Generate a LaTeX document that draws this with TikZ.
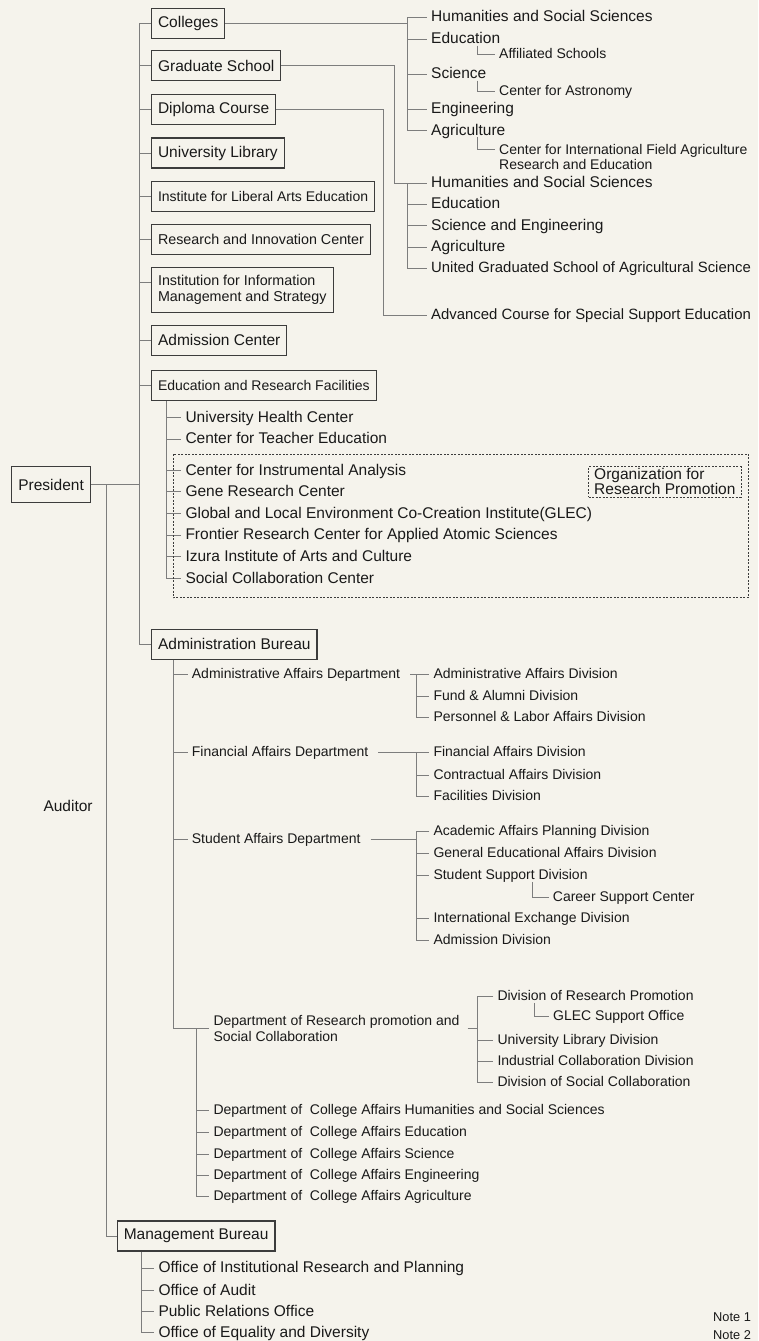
\documentclass[tikz,border=0pt]{standalone}
\usepackage{fontspec}
\setmainfont{Liberation Sans}
\usepackage{tikz}
\usetikzlibrary{
    calc
}

\begin{document}
\begin{tikzpicture}[
    x=1pt, y=-1pt,
    unit/.style={
        draw=boxline,
        line width=1.1pt,
        minimum height=30pt,
        inner xsep=6.5pt,
        anchor=west,
        align=left,
        text=ink,
        font=\fontsize{15.5}{16}\selectfont
    },
    item/.style={
        inner xsep=4pt,
        inner ysep=0pt,
        anchor=west,
        text=ink,
        text height=11pt,
        text depth=2pt,
        font=\fontsize{15.5}{16}\selectfont
    },
    subitem/.style={
        inner xsep=4pt,
        inner ysep=0pt,
        anchor=west,
        text=ink,
        text height=10pt,
        text depth=2pt,
        font=\fontsize{14}{16}\selectfont
    },
    twoline/.style={
        inner xsep=4pt,
        inner ysep=0pt,
        anchor=west,
        align=left,
        text=ink,
        font=\fontsize{14}{15.7}\selectfont
    },
    note/.style={
        inner sep=0pt,
        anchor=west,
        text=ink,
        text height=9.4pt,
        text depth=0pt,
        font=\fontsize{12.8}{14}\selectfont
    },
    link/.style={
        draw=wire,
        line width=1pt
    },
    group/.style={
        draw=boxline,
        line width=0.8pt,
        dash pattern=on 2pt off 1.5pt
    }]
    \definecolor{paper}{RGB}{245, 243, 236}
    \definecolor{wire}{RGB}{125, 125, 125}
    \definecolor{boxline}{RGB}{60, 60, 60}
    \definecolor{ink}{RGB}{25, 25, 25}

    \fill[paper] (0,0) rectangle (758,1341);
    \useasboundingbox (0,0) rectangle (758,1341);

    % top level
    \node[unit, minimum height=36pt] (pres) at (11.3,484.7) {President};
    \node[unit] (coll) at (151,23.5) {Colleges};
    \node[unit] (grad) at (151,65.7) {Graduate School};
    \node[unit] (dipl) at (151,109.3) {Diploma Course};
    \node[unit] (ulib) at (151,153) {University Library};
    \node[unit, font=\fontsize{14}{16}\selectfont] (libarts) at (151,196.7) {Institute for Liberal Arts Education};
    \node[unit, font=\fontsize{14.3}{16}\selectfont] (innov) at (151,239.3) {Research and Innovation Center};
    \node[unit, font=\fontsize{14.3}{15.7}\selectfont, minimum height=45.3pt] (infor) at (151,290) {Institution for Information\\Management and Strategy};
    \node[unit] (admc) at (151,340.3) {Admission Center};
    \node[unit, font=\fontsize{14}{16}\selectfont] (erf) at (151,385.7) {Education and Research Facilities};
    \node[unit] (admb) at (151,644.3) {Administration Bureau};
    \node[unit] (mgmb) at (116.7,1236) {Management Bureau};

    \coordinate (spine) at (139,0);
    \coordinate (audline) at (106.3,0);
    \coordinate (infortick) at ($(infor.north west)!0.33!(infor.south west)$);

    \draw[link] (coll.west) -| (spine |- admb.west) -- (admb.west);
    \draw[link] (spine |- grad.west) -- (grad.west);
    \draw[link] (spine |- dipl.west) -- (dipl.west);
    \draw[link] (spine |- ulib.west) -- (ulib.west);
    \draw[link] (spine |- libarts.west) -- (libarts.west);
    \draw[link] (spine |- innov.west) -- (innov.west);
    \draw[link] (spine |- infortick) -- (infortick);
    \draw[link] (spine |- admc.west) -- (admc.west);
    \draw[link] (spine |- erf.west) -- (erf.west);
    \draw[link] (pres.east) -- (spine |- pres.east);
    \draw[link] (audline |- pres.east) |- (mgmb.west);

    \node[item] (audt) at (39.3,806.7) {Auditor};

    % colleges
    \coordinate (cbr) at (407,0);
    \coordinate (csub) at (477,0);
    \node[item] (c1) at (427,17.3) {Humanities and Social Sciences};
    \node[item] (c2) at (427,39) {Education};
    \node[subitem] (c2a) at (495,54.3) {Affiliated Schools};
    \node[item] (c3) at (427,74) {Science};
    \node[subitem] (c3a) at (495,91.7) {Center for Astronomy};
    \node[item] (c4) at (427,109) {Engineering};
    \node[item] (c5) at (427,130.7) {Agriculture};
    \node[twoline, font=\fontsize{14}{15.3}\selectfont] (c5a) at (495,156.7) {Center for International Field Agriculture\\Research and Education};

    \draw[link] (coll.east) -- (cbr |- coll.east);
    \draw[link] (c1.west) -| (cbr |- c5.west) -- (c5.west);
    \draw[link] (cbr |- c2.west) -- (c2.west);
    \draw[link] (cbr |- c3.west) -- (c3.west);
    \draw[link] (cbr |- c4.west) -- (c4.west);
    \draw[link] (csub |- c2.south) |- (c2a.west);
    \draw[link] (csub |- c3.south) |- (c3a.west);
    \draw[link] (csub |- c5.south) |- ($(c5a.north west)+(0,6)$);

    % graduate school
    \coordinate (gjog) at (394,0);
    \coordinate (gbr) at (407,0);
    \node[item] (g1) at (427,183) {Humanities and Social Sciences};
    \node[item] (g2) at (427,204.3) {Education};
    \node[item] (g3) at (427,225.7) {Science and Engineering};
    \node[item] (g4) at (427,247) {Agriculture};
    \node[item, font=\fontsize{14.9}{16}\selectfont] (g5) at (427,268.3) {United Graduated School of Agricultural Science};

    \draw[link] (grad.east) -| (gjog |- g1.west) -- (g1.west);
    \draw[link] (gbr |- g1.west) |- (g5.west);
    \draw[link] (gbr |- g2.west) -- (g2.west);
    \draw[link] (gbr |- g3.west) -- (g3.west);
    \draw[link] (gbr |- g4.west) -- (g4.west);

    % diploma course
    \coordinate (djog) at (383.3,0);
    \node[item, font=\fontsize{14.9}{16}\selectfont] (adv) at (427,315) {Advanced Course for Special Support Education};
    \draw[link] (dipl.east) -| (djog |- adv.west) -- (adv.west);

    % education and research facilities
    \coordinate (ebr) at (166.3,0);
    \node[item] (e1) at (181.3,417.7) {University Health Center};
    \node[item] (e2) at (181.3,439.3) {Center for Teacher Education};
    \node[item] (e3) at (181.3,470.7) {Center for Instrumental Analysis};
    \node[item] (e4) at (181.3,491.7) {Gene Research Center};
    \node[item] (e5) at (181.3,513.7) {Global and Local Environment Co-Creation Institute(GLEC)};
    \node[item] (e6) at (181.3,535.3) {Frontier Research Center for Applied Atomic Sciences};
    \node[item] (e7) at (181.3,556.7) {Izura Institute of Arts and Culture};
    \node[item] (e8) at (181.3,578.7) {Social Collaboration Center};

    \draw[link] (erf.south -| ebr) |- (e8.west);
    \draw[link] (ebr |- e1.west) -- (e1.west);
    \draw[link] (ebr |- e2.west) -- (e2.west);
    \draw[link] (ebr |- e3.west) -- (e3.west);
    \draw[link] (ebr |- e4.west) -- (e4.west);
    \draw[link] (ebr |- e5.west) -- (e5.west);
    \draw[link] (ebr |- e6.west) -- (e6.west);
    \draw[link] (ebr |- e7.west) -- (e7.west);

    \draw[group] (173,454) rectangle (748.3,597.7);
    \node[group, anchor=west, align=left, inner xsep=5.5pt, inner ysep=2pt, text=ink, font=\fontsize{15.5}{15}\selectfont] (orp) at (588.3,481.9) {Organization for\\Research Promotion};

    % administration bureau
    \coordinate (abr) at (173.3,0);
    \node[subitem] (d1) at (187.7,674.7) {Administrative Affairs Department};
    \node[subitem] (d2) at (187.7,752.7) {Financial Affairs Department};
    \node[subitem] (d3) at (187.7,839.5) {Student Affairs Department};
    \node[twoline] (d4) at (209.3,1028.5) {Department of Research promotion and\\Social Collaboration};

    \draw[link] (admb.south -| abr) |- (d4.west);
    \draw[link] (abr |- d1.west) -- (d1.west);
    \draw[link] (abr |- d2.west) -- (d2.west);
    \draw[link] (abr |- d3.west) -- (d3.west);

    \coordinate (vbr) at (416,0);
    \node[subitem] (a1) at (429.3,674.7) {Administrative Affairs Division};
    \node[subitem] (a2) at (429.3,696.7) {Fund \& Alumni Division};
    \node[subitem] (a3) at (429.3,717.7) {Personnel \& Labor Affairs Division};
    \draw[link, shorten <=6pt] (d1.east) -- (a1.west);
    \draw[link] (vbr |- a1.west) |- (a3.west);
    \draw[link] (vbr |- a2.west) -- (a2.west);

    \node[subitem] (b1) at (429.3,752.7) {Financial Affairs Division};
    \node[subitem] (b2) at (429.3,775) {Contractual Affairs Division};
    \node[subitem] (b3) at (429.3,796.7) {Facilities Division};
    \draw[link, shorten <=6pt] (d2.east) -- (b1.west);
    \draw[link] (vbr |- b1.west) |- (b3.west);
    \draw[link] (vbr |- b2.west) -- (b2.west);

    \coordinate (ssub) at (532.7,0);
    \node[subitem] (s1) at (429.3,831.7) {Academic Affairs Planning Division};
    \node[subitem] (s2) at (429.3,853.7) {General Educational Affairs Division};
    \node[subitem] (s3) at (429.3,875.7) {Student Support Division};
    \node[subitem] (s3a) at (548.7,897.7) {Career Support Center};
    \node[subitem] (s4) at (429.3,918.7) {International Exchange Division};
    \node[subitem] (s5) at (429.3,940.7) {Admission Division};
    \draw[link, shorten <=6pt] (d3.east) -- (vbr |- d3.east);
    \draw[link] (s1.west) -| (vbr |- s5.west) -- (s5.west);
    \draw[link] (vbr |- s2.west) -- (s2.west);
    \draw[link] (vbr |- s3.west) -- (s3.west);
    \draw[link] (vbr |- s4.west) -- (s4.west);
    \draw[link] (ssub |- s3.south) |- (s3a.west);

    \coordinate (rbr) at (477.3,0);
    \coordinate (rsub) at (534,0);
    \node[subitem] (r1) at (493.3,996.7) {Division of Research Promotion};
    \node[subitem] (r1a) at (549,1016.7) {GLEC Support Office};
    \node[subitem] (r2) at (493.3,1040) {University Library Division};
    \node[subitem] (r3) at (493.3,1061.7) {Industrial Collaboration Division};
    \node[subitem] (r4) at (493.3,1082.7) {Division of Social Collaboration};
    \draw[link, shorten <=4pt] (d4.east) -- (rbr |- d4.east);
    \draw[link] (r1.west) -| (rbr |- r4.west) -- (r4.west);
    \draw[link] (rbr |- r2.west) -- (r2.west);
    \draw[link] (rbr |- r3.west) -- (r3.west);
    \draw[link] (rsub |- r1.south) |- (r1a.west);

    \coordinate (fbr) at (196.7,0);
    \node[subitem] (f1) at (209.3,1110) {Department of\ \ College Affairs Humanities and Social Sciences};
    \node[subitem] (f2) at (209.3,1132) {Department of\ \ College Affairs Education};
    \node[subitem] (f3) at (209.3,1154) {Department of\ \ College Affairs Science};
    \node[subitem] (f4) at (209.3,1175) {Department of\ \ College Affairs Engineering};
    \node[subitem] (f5) at (209.3,1196.7) {Department of\ \ College Affairs Agriculture};
    \draw[link] (fbr |- d4.west) |- (f5.west);
    \draw[link] (fbr |- f1.west) -- (f1.west);
    \draw[link] (fbr |- f2.west) -- (f2.west);
    \draw[link] (fbr |- f3.west) -- (f3.west);
    \draw[link] (fbr |- f4.west) -- (f4.west);

    % management bureau
    \coordinate (mbr) at (141.7,0);
    \node[item] (m1) at (154.3,1268.3) {Office of Institutional Research and Planning};
    \node[item] (m2) at (154.3,1290.7) {Office of Audit};
    \node[item] (m3) at (154.3,1311.7) {Public Relations Office};
    \node[item] (m4) at (154.3,1332.7) {Office of Equality and Diversity};
    \draw[link] (mgmb.south -| mbr) |- (m4.west);
    \draw[link] (mbr |- m1.west) -- (m1.west);
    \draw[link] (mbr |- m2.west) -- (m2.west);
    \draw[link] (mbr |- m3.west) -- (m3.west);

    \node[note] (n1) at (713,1316.7) {Note 1};
    \node[note] (n2) at (713,1335) {Note 2};

\end{tikzpicture}
\end{document}
